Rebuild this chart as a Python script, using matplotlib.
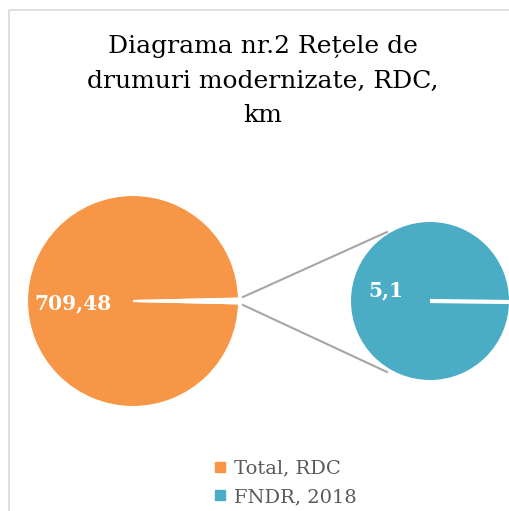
import matplotlib.pyplot as plt
from matplotlib.patches import Rectangle
from matplotlib.lines import Line2D

title = "Diagrama nr.2 Rețele de\ndrumuri modernizate, RDC,\nkm"
categories = ["Total, RDC", "FNDR, 2018"]
main_values = [709.48, 5.1]   # main pie: total and the "other" part
sub_values = [5.1]            # secondary pie
labels_main = ["709,48"]
labels_sub = ["5,1"]

orange = "#F79646"
teal = "#4BACC6"

plt.rcParams['font.family'] = ['DejaVu Serif']

fig = plt.figure(figsize=(5.10, 5.11), dpi=100)
ax = fig.add_axes([0, 0, 1, 1])

# chart frame (cut at right and bottom)
ax.add_patch(Rectangle((9, 10), 600, 600, fill=False, ec="#d9d9d9", lw=1.2))

# main pie
c1, r1 = (133, 301), 106
frac = main_values[1] / sum(main_values) * 360
ax.pie(main_values, colors=[orange, "white"], center=c1, radius=r1,
       startangle=frac / 2,
       wedgeprops=dict(edgecolor="white", linewidth=1.5), frame=True)

# secondary pie
c2, r2 = (430, 301), 79
ax.pie(sub_values, colors=[teal], center=c2, radius=r2, frame=True,
       wedgeprops=dict(edgecolor="none"))
ax.plot([c2[0], c2[0] + r2], [c2[1], c2[1] + 1], color="white", lw=3,
        solid_capstyle="butt")

ax.set_xlim(0, 510)
ax.set_ylim(511, 0)
ax.set_aspect('equal')
ax.axis('off')

# connector lines
ax.plot([243, 387], [297, 232], color="#a6a6a6", lw=1.5)
ax.plot([243, 387], [305, 372], color="#a6a6a6", lw=1.5)

# data labels
ax.text(73, 303, labels_main[0], color="white", fontsize=14.5, fontweight="bold",
        ha="center", va="center")
ax.text(386, 290, labels_sub[0], color="white", fontsize=14.5, fontweight="bold",
        ha="center", va="center")

# title
ax.text(263, 81, title, fontsize=18, color="black", ha="center", va="center",
        linespacing=1.62)

# legend
handles = [Line2D([], [], marker="s", color=orange, ls="", markersize=7),
           Line2D([], [], marker="s", color=teal, ls="", markersize=7)]
leg = ax.legend(handles, categories, loc="center", bbox_to_anchor=(0.56, 0.055),
                frameon=False, fontsize=14, handlelength=0.6, handletextpad=0.4,
                labelspacing=0.55, labelcolor="#595959")

fig.savefig("out.png", dpi=100)
